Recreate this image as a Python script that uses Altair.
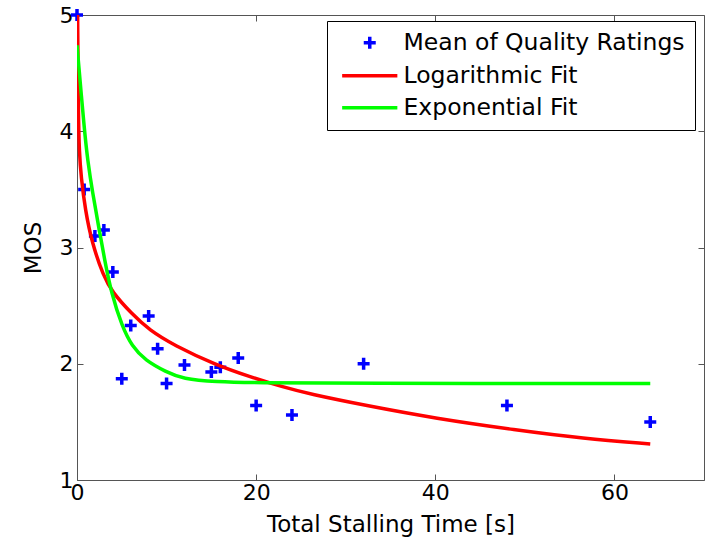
import altair as alt
import pandas as pd

series_names = ["Mean of Quality Ratings", "Logarithmic Fit", "Exponential Fit"]
series_colors = ["#0000ff", "#ff0000", "#00ff00"]

# measured ratings
mos_x = [0, 0.8, 2, 3, 4, 5, 6, 8, 9, 10, 12, 15, 16, 18, 20, 24, 32, 48, 64]
mos_y = [5.0, 3.50, 3.10, 3.15, 2.79, 1.87, 2.33, 2.41, 2.13, 1.83, 1.99, 1.93, 1.97, 2.05, 1.64, 1.56, 2.00, 1.64, 1.50]

# logarithmic fit
log_x = [0.07, 0.15, 0.26, 0.45, 0.93, 1.67, 2.97, 3.9, 6.1, 8.08, 10.8, 15.5, 19.25, 22.97, 25.96, 32.3, 40, 49, 56.5, 64]
log_y = [5.0, 4.12, 3.82, 3.61, 3.32, 3.04, 2.75, 2.62, 2.43, 2.29, 2.16, 1.99, 1.89, 1.80, 1.74, 1.64, 1.53, 1.43, 1.357, 1.31]

# exponential fit
exp_x = [0, 0.82, 1.19, 1.74, 2.42, 3.09, 3.83, 5.03, 6.14, 7.6, 9.94, 11.8, 15.5, 20, 30, 64]
exp_y = [4.74, 4.01, 3.75, 3.47, 3.18, 2.89, 2.61, 2.32, 2.15, 2.03, 1.93, 1.87, 1.845, 1.836, 1.831, 1.831]

x_ticks = [0, 20, 40, 60]
y_ticks = [1, 2, 3, 4, 5]

pts = pd.DataFrame({"t": mos_x, "mos": mos_y, "series": series_names[0]})
log_df = pd.DataFrame({"t": log_x, "mos": log_y, "series": series_names[1]})
exp_df = pd.DataFrame({"t": exp_x, "mos": exp_y, "series": series_names[2]})

FONT = "DejaVu Sans"
cross = "M-1,0H1M0,-1V1"
legline = "M-4.6,0H4.6"
AX = "#555555"

x_scale = alt.Scale(domain=[0, 70], nice=False, zero=False)
y_scale = alt.Scale(domain=[1, 5], nice=False, zero=False)
color_scale = alt.Scale(domain=series_names, range=series_colors)
shape_scale = alt.Scale(domain=series_names, range=[cross, legline, legline])

inward = {"expr": "-6"}

common_axis = dict(domainColor=AX, tickColor=AX, tickSize=inward, grid=False,
                   labelFont=FONT, labelFontSize=22, labelColor="black",
                   titleFont=FONT, titleFontSize=23, titleFontWeight="normal", titleColor="black")

x_axis_bottom = alt.Axis(values=x_ticks, title="Total Stalling Time [s]", labelFlush=False,
                         labelPadding=8, titlePadding=10, **common_axis)
y_axis_left = alt.Axis(values=y_ticks, title="MOS", labelPadding=10, titlePadding=14, **common_axis)
x_axis_top = alt.Axis(values=x_ticks, orient="top", labels=False, title=None,
                      domainColor=AX, tickColor=AX, tickSize=inward, grid=False)
y_axis_right = alt.Axis(values=y_ticks, orient="right", labels=False, title=None,
                        domainColor=AX, tickColor=AX, tickSize=inward, grid=False)

legend = alt.Legend(title=None, orient="none", legendX=250, legendY=6, direction="vertical",
                    labelFont=FONT, labelFontSize=23.5, labelColor="black", labelLimit=500,
                    symbolSize=144, symbolStrokeWidth=3.5, symbolOffset=21, labelOffset=22,
                    padding=10, rowPadding=7, strokeColor="black", fillColor="white")

points = alt.Chart(pts).mark_point(filled=False, size=144, strokeWidth=3.5, opacity=1).encode(
    x=alt.X("t:Q", scale=x_scale, axis=x_axis_bottom),
    y=alt.Y("mos:Q", scale=y_scale, axis=y_axis_left),
    color=alt.Color("series:N", scale=color_scale, legend=legend),
    shape=alt.Shape("series:N", scale=shape_scale, legend=legend),
)

def fit_line(df):
    return alt.Chart(df).mark_line(strokeWidth=3.5, interpolate="basis", clip=True).encode(
        x=alt.X("t:Q", scale=x_scale, axis=None),
        y=alt.Y("mos:Q", scale=y_scale, axis=None),
        color=alt.Color("series:N", scale=color_scale, legend=legend),
    )

frame = alt.Chart(pts).mark_point(opacity=0).encode(
    x=alt.X("t:Q", scale=x_scale, axis=x_axis_top),
    y=alt.Y("mos:Q", scale=y_scale, axis=y_axis_right),
)

chart = alt.layer(points, fit_line(log_df), fit_line(exp_df), frame).resolve_axis(
    x="independent", y="independent"
).properties(
    width=627, height=465, autosize="none",
    padding={"left": 77, "top": 15, "right": 4, "bottom": 64},
    background="white",
).configure_view(stroke=None)

chart.save("out.html", embed_options={"renderer": "svg", "actions": False})
